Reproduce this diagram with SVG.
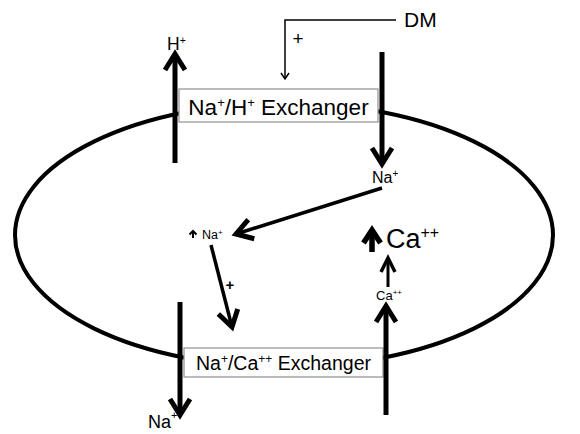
<svg xmlns="http://www.w3.org/2000/svg" width="580" height="434" viewBox="0 0 580 434">
<style>
text{font-family:"Liberation Sans",Arial,sans-serif;fill:#000}
.thick{stroke:#000;stroke-width:5;fill:none}
.box{fill:#fff;stroke:#999;stroke-width:1.3}
</style>
<defs>
<marker id="big" markerUnits="userSpaceOnUse" viewBox="-20 -14 24 28" refX="0" refY="0" markerWidth="24" markerHeight="28" orient="auto" overflow="visible">
<path d="M-16,-10 L0,0 L-16,10" fill="none" stroke="#000" stroke-width="5"/>
</marker>
<marker id="fat" markerUnits="userSpaceOnUse" viewBox="-20 -14 24 28" refX="0" refY="0" markerWidth="24" markerHeight="28" orient="auto" overflow="visible">
<path d="M-13,-8.5 L0,0 L-13,8.5" fill="none" stroke="#000" stroke-width="5.5"/>
</marker>
<marker id="mid" markerUnits="userSpaceOnUse" viewBox="-20 -14 24 28" refX="0" refY="0" markerWidth="24" markerHeight="28" orient="auto" overflow="visible">
<path d="M-14,-7 L0,0 L-14,7" fill="none" stroke="#000" stroke-width="3.5"/>
</marker>
<marker id="thin" markerUnits="userSpaceOnUse" viewBox="-10 -6 12 12" refX="0" refY="0" markerWidth="12" markerHeight="12" orient="auto" overflow="visible">
<path d="M-6,-4 L0,0 L-6,4" fill="none" stroke="#000" stroke-width="1.5"/>
</marker>
<marker id="tiny" markerUnits="userSpaceOnUse" viewBox="-6 -5 8 10" refX="0" refY="0" markerWidth="8" markerHeight="10" orient="auto" overflow="visible">
<path d="M-3.5,-3.5 L0,0 L-3.5,3.5" fill="none" stroke="#000" stroke-width="2"/>
</marker>
</defs>
<g id="cell">
<ellipse cx="284" cy="235" rx="269" ry="132" fill="none" stroke="#000" stroke-width="4"/>
</g>
<g id="nhe">
<rect class="box" x="179" y="89" width="199" height="33"/>
<text x="278.5" y="115" font-size="22.5" text-anchor="middle">Na<tspan font-size="13" dy="-8">+</tspan><tspan dy="8">/H</tspan><tspan font-size="13" dy="-8">+</tspan><tspan dy="8"> Exchanger</tspan></text>
</g>
<g id="ncx">
<rect class="box" x="184" y="348" width="199" height="29"/>
<text x="283.5" y="370" font-size="19.5" text-anchor="middle">Na<tspan font-size="12" dy="-7">+</tspan><tspan dy="7">/Ca</tspan><tspan font-size="12" dy="-7">++</tspan><tspan dy="7"> Exchanger</tspan></text>
</g>
<g id="labels">
<text x="167" y="50" font-size="17.5">H<tspan font-size="10.5" dy="-6">+</tspan></text>
<text x="404" y="27" font-size="21">DM</text>
<text x="298" y="45" font-size="19" text-anchor="middle">+</text>
<text x="372" y="183" font-size="16">Na<tspan font-size="10" dy="-6">+</tspan></text>
<text x="202" y="239" font-size="12.5">Na<tspan font-size="8" dy="-4">+</tspan></text>
<text x="230" y="290" font-size="15" font-weight="bold" text-anchor="middle">+</text>
<text x="386" y="248" font-size="27">Ca<tspan font-size="16" dy="-10">++</tspan></text>
<text x="376" y="300" font-size="13">Ca<tspan font-size="8" dy="-5">++</tspan></text>
<text x="148" y="428" font-size="18">Na<tspan font-size="11" dy="-9">+</tspan></text>
</g>
<g id="connectors">
<line class="thick" x1="175" y1="163" x2="175" y2="54" marker-end="url(#big)"/>
<line class="thick" x1="382" y1="52" x2="382" y2="164" marker-end="url(#big)"/>
<line class="thick" x1="180" y1="302" x2="180" y2="415" marker-end="url(#big)"/>
<line class="thick" x1="386" y1="415" x2="386" y2="306" marker-end="url(#big)"/>
<path d="M396,20 H285 V79" fill="none" stroke="#000" stroke-width="1.5" marker-end="url(#thin)"/>
<line x1="382" y1="188" x2="236" y2="234" stroke="#000" stroke-width="3.5" marker-end="url(#big)"/>
<line x1="211" y1="245" x2="232" y2="327" stroke="#000" stroke-width="3.5" marker-end="url(#big)"/>
<line x1="388" y1="287" x2="388" y2="258" stroke="#000" stroke-width="3" marker-end="url(#mid)"/>
<line x1="372" y1="252" x2="372" y2="230" stroke="#000" stroke-width="5.5" marker-end="url(#fat)"/>
<line x1="193" y1="238" x2="193" y2="231" stroke="#000" stroke-width="2" marker-end="url(#tiny)"/>
</g>
</svg>
